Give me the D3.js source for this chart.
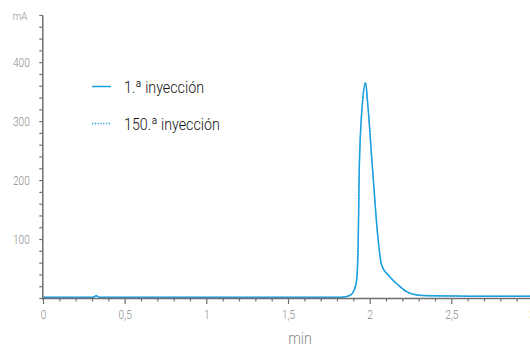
<!DOCTYPE html>
<html><head><meta charset="utf-8">
<script src="https://cdn.jsdelivr.net/npm/d3@7"></script>
<style>
html,body{margin:0;padding:0;background:#fff;}
svg{display:block;}
text{font-family:Roboto,"Liberation Sans",sans-serif;font-weight:300;}
</style></head>
<body>
<svg id="chart" width="530" height="347"></svg>
<script>
// ---- data ----
const seriesNames = ["1.ª inyección", "150.ª inyección"];
const timeMin = [0, 0.30, 0.315, 0.322, 0.33, 0.345, 1.0, 1.80, 1.85, 1.88, 1.90, 1.917, 1.927, 1.933, 1.953, 1.972, 1.985, 2.015, 2.049, 2.07, 2.12, 2.171, 2.223, 2.284, 2.365, 2.6, 3.0];
const inj1mA   = [2, 2, 3.5, 5, 3.5, 2, 2, 2, 3, 6, 13, 31, 99, 218, 332, 366, 330, 218, 99, 57, 37, 23, 11.5, 6, 4.5, 4, 4];
const inj150mA = [2, 2, 3.5, 5, 3.5, 2, 2, 2, 3, 6, 13, 31, 99, 218, 332, 366, 330, 218, 99, 57, 37, 23, 11.5, 6, 4.5, 4, 4];
const xTickLabels = ["0", "0,5", "1", "1,5", "2", "2,5", "3"];
const yTickLabels = ["100", "200", "300", "400"];
const yUnit = "mA", xUnit = "min";

// ---- layout ----
const svg = d3.select("#chart");
const x = d3.scaleLinear().domain([0, 3]).range([43.5, 533.5]);
const y = d3.scaleLinear().domain([0, 480]).range([298.5, 15.5]);
const axisColor = "#707070", labelColor = "#8a8a8a", blue = "#1a9fe0";
const SX = 0.84; // condensed look

function ctext(sel, tx, ty, str, size, anchor, fill) {
  return sel.append("text")
    .attr("transform", `translate(${tx},${ty}) scale(${SX},1)`)
    .attr("text-anchor", anchor).attr("fill", fill).attr("font-size", size).text(str);
}

// data lines
const line = d3.line().x((d, i) => x(timeMin[i])).y(d => y(d)).curve(d3.curveMonotoneX);
svg.append("path").datum(inj150mA).attr("d", line).attr("fill", "none")
  .attr("stroke", blue).attr("stroke-width", 1.3).attr("stroke-dasharray", "1.2,1.6");
svg.append("path").datum(inj1mA).attr("d", line).attr("fill", "none")
  .attr("stroke", blue).attr("stroke-width", 1.5);

// x axis
const xMinor = d3.range(0, 31).map(i => i / 10);
const xg = svg.append("g").attr("transform", `translate(0,${y(0)})`);
xg.append("line").attr("x1", x(0) - 1).attr("x2", 530).attr("stroke", axisColor).attr("stroke-width", 1.5);
xg.selectAll("line.t").data(xMinor).join("line").attr("class", "t")
  .attr("x1", d => x(d)).attr("x2", d => x(d))
  .attr("y1", 0).attr("y2", (d, i) => i % 5 === 0 ? 5.5 : 3)
  .attr("stroke", axisColor).attr("stroke-width", 1.2);
xTickLabels.forEach((lab, i) => ctext(xg, Math.min(x(i * 0.5), 532), 20.5, lab, 12, "middle", labelColor));
ctext(svg, 300, 343.5, xUnit, 17, "middle", labelColor);

// y axis
const yMinor = d3.range(0, 25).map(i => i * 20);
const yg = svg.append("g").attr("transform", `translate(${x(0) - 0.7},0)`);
yg.append("line").attr("y1", y(480)).attr("y2", y(0) + 1).attr("stroke", axisColor).attr("stroke-width", 1.5);
yg.selectAll("line.t").data(yMinor).join("line").attr("class", "t")
  .attr("y1", d => y(d)).attr("y2", d => y(d)).attr("x1", -3.5).attr("x2", 0)
  .attr("stroke", axisColor).attr("stroke-width", 1.2);
yTickLabels.forEach((lab, i) => ctext(yg, -13, y((i + 1) * 100) + 4.5, lab, 12, "end", labelColor));
ctext(yg, -15.5, y(480) + 4, yUnit, 11.5, "end", labelColor);

// legend
const lg = svg.append("g");
seriesNames.forEach((name, i) => {
  const yy = 86.5 + i * 37;
  lg.append("line").attr("x1", 92).attr("x2", 111).attr("y1", yy).attr("y2", yy)
    .attr("stroke", blue).attr("stroke-width", i === 0 ? 1.5 : 1.3)
    .attr("stroke-dasharray", i === 0 ? null : "1.2,1.6");
  ctext(lg, 124, yy + 6, name, 17, "start", "#111");
});
</script>
</body></html>
